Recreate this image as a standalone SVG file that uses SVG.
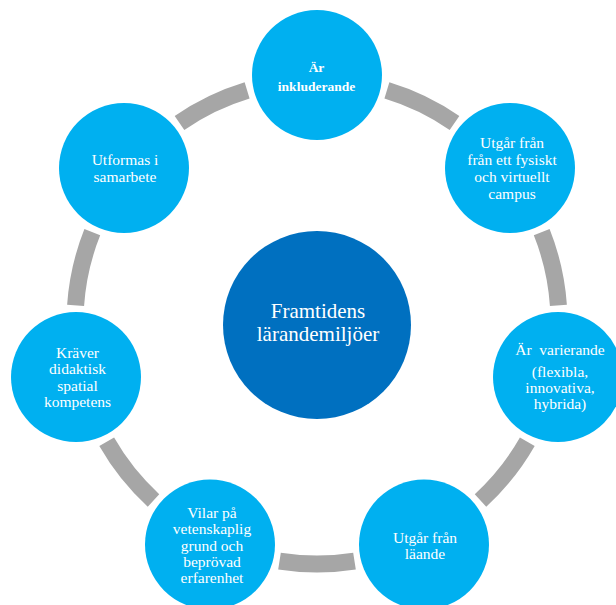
<svg xmlns="http://www.w3.org/2000/svg" width="616" height="605" viewBox="0 0 616 605">
<style>
.arc{fill:none;stroke:#a6a6a6;stroke-width:17;stroke-linecap:butt}
.node{fill:#00b0f0}
.hub{fill:#0070c0}
text{font-family:"Liberation Serif","Times New Roman",serif;fill:#ffffff;text-anchor:middle}
.t{font-size:15.5px}
.b{font-size:13.5px;font-weight:bold}
.c{font-size:21px}
</style>
<rect width="616" height="605" fill="#ffffff"/>
<g id="connectors">
<path class="arc" d="M386.9,90.3 A242,242 0 0 1 454.5,122.9"/>
<path class="arc" d="M541.7,232.2 A242,242 0 0 1 558.4,305.4"/>
<path class="arc" d="M527.3,441.8 A242,242 0 0 1 480.5,500.4"/>
<path class="arc" d="M354.5,561.1 A242,242 0 0 1 279.5,561.1"/>
<path class="arc" d="M153.5,500.4 A242,242 0 0 1 106.7,441.8"/>
<path class="arc" d="M75.6,305.4 A242,242 0 0 1 92.3,232.2"/>
<path class="arc" d="M179.5,122.9 A242,242 0 0 1 247.1,90.3"/>
</g>
<g id="hub">
<circle class="hub" cx="317" cy="325" r="94"/>
<text class="c" x="318" y="318">Framtidens</text>
<text class="c" x="318" y="341">lärandemiljöer</text>
</g>
<g id="n1">
<circle class="node" cx="317" cy="75" r="65"/>
<text class="b" x="316.5" y="72">Är</text>
<text class="b" x="316.5" y="91">inkluderande</text>
</g>
<g id="n2">
<circle class="node" cx="510" cy="168" r="65"/>
<text class="t" x="512" y="148">Utgår från</text>
<text class="t" x="512" y="165">från ett fysiskt</text>
<text class="t" x="512" y="182">och virtuellt</text>
<text class="t" x="512" y="199">campus</text>
</g>
<g id="n3">
<circle class="node" cx="558" cy="377" r="65"/>
<text class="t" x="560" y="355" xml:space="preserve">Är  varierande</text>
<text class="t" x="560" y="377">(flexibla,</text>
<text class="t" x="560" y="393">innovativa,</text>
<text class="t" x="560" y="409">hybrida)</text>
</g>
<g id="n4">
<circle class="node" cx="424" cy="544.5" r="65"/>
<text class="t" x="425" y="543">Utgår från</text>
<text class="t" x="425" y="559">läande</text>
</g>
<g id="n5">
<circle class="node" cx="210" cy="544.5" r="65"/>
<text class="t" x="212" y="518">Vilar på</text>
<text class="t" x="212" y="534">vetenskaplig</text>
<text class="t" x="212" y="551">grund och</text>
<text class="t" x="212" y="567">beprövad</text>
<text class="t" x="212" y="583">erfarenhet</text>
</g>
<g id="n6">
<circle class="node" cx="76" cy="377" r="65"/>
<text class="t" x="77.5" y="358">Kräver</text>
<text class="t" x="77.5" y="374">didaktisk</text>
<text class="t" x="77.5" y="391">spatial</text>
<text class="t" x="77.5" y="407">kompetens</text>
</g>
<g id="n7">
<circle class="node" cx="124" cy="168" r="65"/>
<text class="t" x="125" y="165">Utformas i</text>
<text class="t" x="125" y="182">samarbete</text>
</g>
</svg>
